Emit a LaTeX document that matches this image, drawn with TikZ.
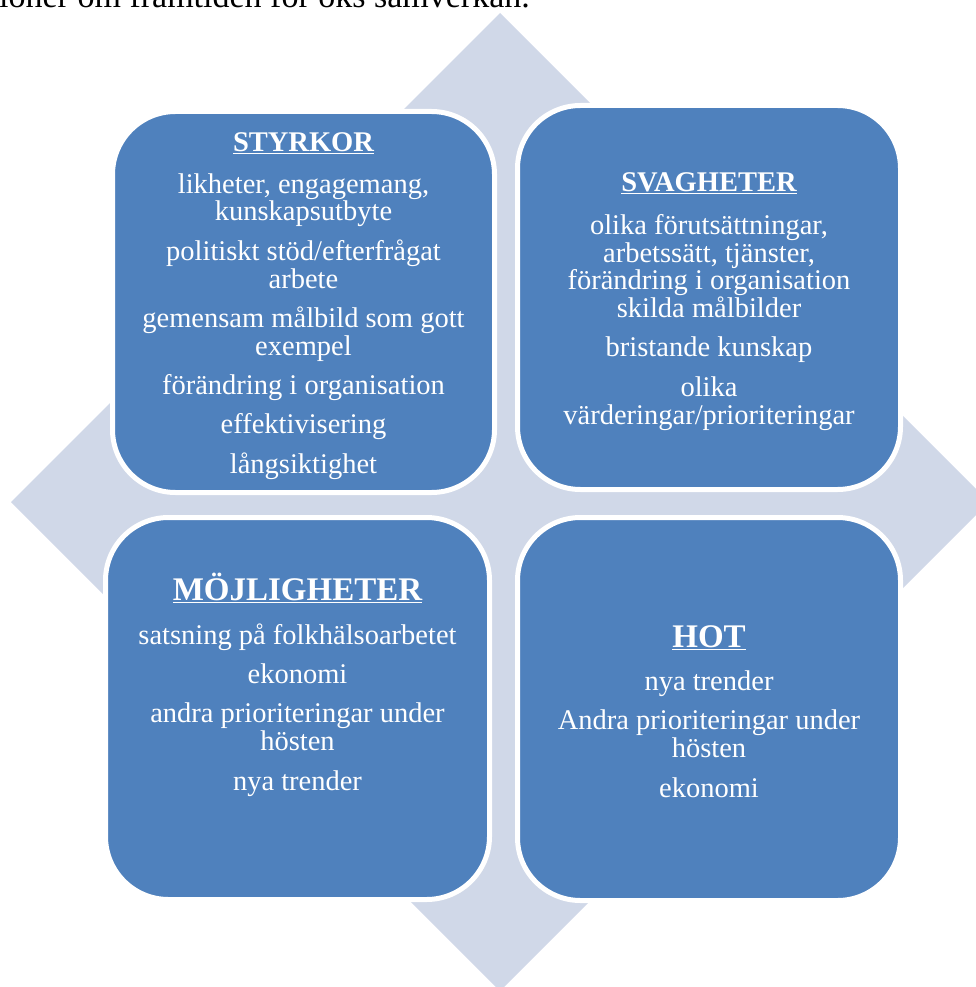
\documentclass[tikz,border=0pt]{standalone}
\usepackage{fontspec}
\setmainfont{Liberation Serif}
\definecolor{boxblue}{HTML}{4F81BD}
\definecolor{diamondblue}{HTML}{D0D8E8}
\begin{document}
\begin{tikzpicture}[x=1pt,y=-1pt,
  quad/.style={fill=boxblue,draw=white,line width=5pt,rounded corners=63pt},
  headsmall/.style={anchor=base,text=white,inner sep=0pt,font=\fontsize{28.5}{30}\selectfont\bfseries},
  headbig/.style={anchor=base,text=white,inner sep=0pt,font=\fontsize{33}{36}\selectfont\bfseries},
  body/.style={anchor=base,text=white,align=center,inner sep=0pt,font=\fontsize{28.5}{27.8}\selectfont}]
\useasboundingbox (0,0) rectangle (976,987);
% background diamond
\fill[diamondblue] (11,502) -- (500,13) -- (989,502) -- (500,991) -- cycle;
% cut-off text line at top
\node[anchor=base west,inner sep=0pt,font=\fontsize{34}{40}\selectfont] (toptext) at (-1,7.5) {ioner om framtiden för oks samverkan.};
% quadrants
\path[quad] (112.5,111.5) rectangle (494.5,492.5);
\path[quad] (517.5,105.5) rectangle (900.5,489.5);
\path[quad] (105.5,517.5) rectangle (489.5,899.5);
\path[quad] (517.5,517.5) rectangle (900.5,900.5);
% STYRKOR (body anchored at baseline of its last line)
\node[headsmall] (h1) at (303.5,152) {\underline{STYRKOR}};
\node[body] (b1) at (303.5,473) {likheter, engagemang,\\kunskapsutbyte\\[11.5pt]politiskt stöd/efterfrågat\\arbete\\[11.5pt]gemensam målbild som gott\\exempel\\[11.5pt]förändring i organisation\\[11.5pt]effektivisering\\[11.5pt]långsiktighet};
% SVAGHETER
\node[headsmall] (h2) at (709,191) {\underline{SVAGHETER}};
\node[body] (b2) at (709,424) {olika förutsättningar,\\arbetssätt, tjänster,\\förändring i organisation\\skilda målbilder\\[11.5pt]bristande kunskap\\[11.5pt]olika\\värderingar/prioriteringar};
% MÖJLIGHETER
\node[headbig] (h3) at (297.5,600) {\underline{MÖJLIGHETER}};
\node[body] (b3) at (297.5,790) {satsning på folkhälsoarbetet\\[11.5pt]ekonomi\\[11.5pt]andra prioriteringar under\\hösten\\[11.5pt]nya trender};
% HOT
\node[headbig] (h4) at (709,647) {\underline{HOT}};
\node[body] (b4) at (709,797) {nya trender\\[11.5pt]Andra prioriteringar under\\hösten\\[11.5pt]ekonomi};
\end{tikzpicture}
\end{document}
